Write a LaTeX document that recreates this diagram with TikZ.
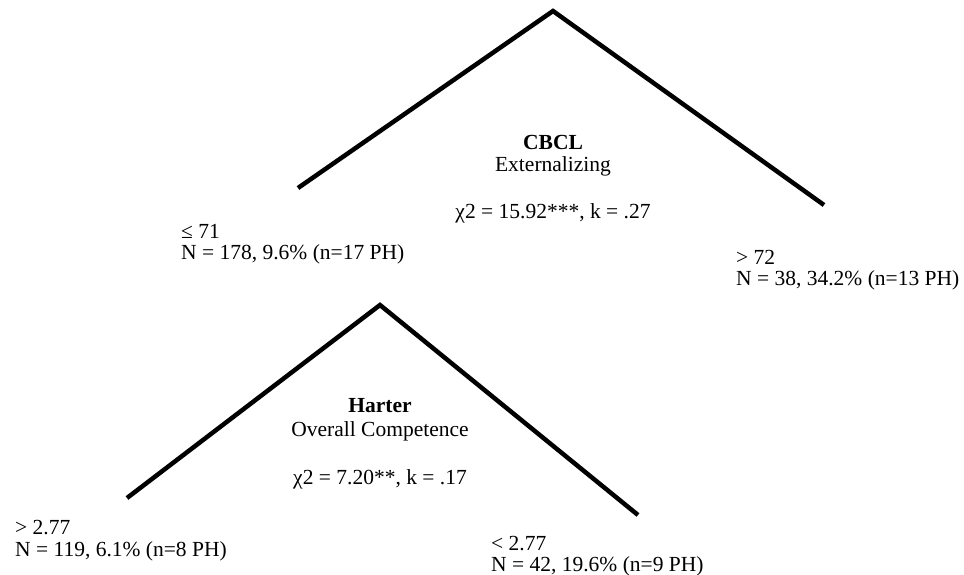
\documentclass[tikz,border=0pt]{standalone}
\usepackage{fontspec}
\setmainfont{Liberation Serif}
\begin{document}
\begin{tikzpicture}[x=1pt,y=-1pt,
  branch/.style={line width=4.5pt, line cap=butt},
  lbl/.style={font=\fontsize{21.5}{22}\selectfont, anchor=base west, inner sep=0pt, align=left},
  ctr/.style={font=\fontsize{21.5}{22}\selectfont, anchor=base, inner sep=0pt, align=center}]
\useasboundingbox (0,0) rectangle (964,574);
% top split
\coordinate (a1) at (553,11);
\coordinate (l1) at (298,188);
\coordinate (r1) at (824,205);
\draw[branch] (l1) -- (a1) -- (r1);
\node[ctr] (t1) at (553,149) {\textbf{CBCL}};
\node[ctr] (t2) at (553,171) {Externalizing};
\node[ctr] (t3) at (553,218) {χ2 = 15.92***, k = .27};
\node[lbl] (l1a) at (181,238) {≤ 71};
\node[lbl] (l1b) at (181,259) {N = 178, 9.6\% (n=17 PH)};
\node[lbl] (r1a) at (736,264) {> 72};
\node[lbl] (r1b) at (736,285) {N = 38, 34.2\% (n=13 PH)};
% bottom split
\coordinate (a2) at (380,305);
\coordinate (l2) at (127,498);
\coordinate (r2) at (638,515);
\draw[branch] (l2) -- (a2) -- (r2);
\node[ctr] (h1) at (380,412) {\textbf{Harter}};
\node[ctr] (h2) at (380,436) {Overall Competence};
\node[ctr] (h3) at (380,484) {χ2 = 7.20**, k = .17};
\node[lbl] (l2a) at (15,534) {> 2.77};
\node[lbl] (l2b) at (15,556) {N = 119, 6.1\% (n=8 PH)};
\node[lbl] (r2a) at (491,550) {< 2.77};
\node[lbl] (r2b) at (491,571) {N = 42, 19.6\% (n=9 PH)};
\end{tikzpicture}
\end{document}
